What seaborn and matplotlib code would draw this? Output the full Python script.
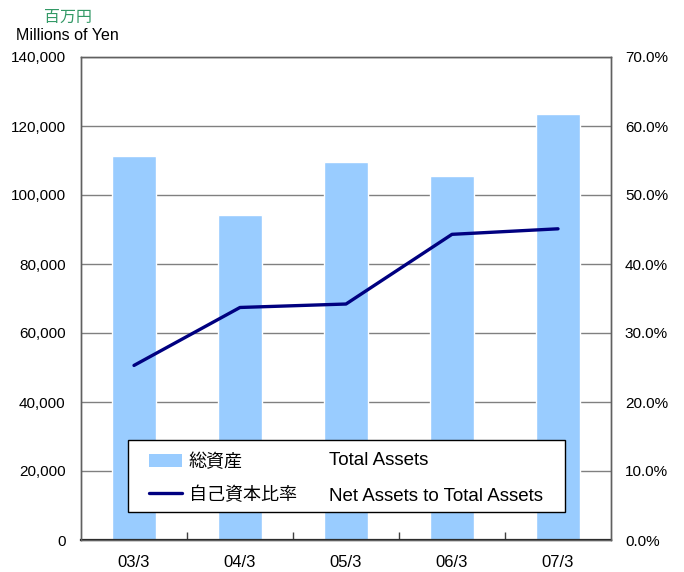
import numpy as np
import matplotlib
matplotlib.use("Agg")
import matplotlib.pyplot as plt
import seaborn as sns
from matplotlib.patches import Patch, Rectangle
from matplotlib.lines import Line2D
from matplotlib.ticker import FuncFormatter, MultipleLocator, FixedLocator

years = ["03/3", "04/3", "05/3", "06/3", "07/3"]
total_assets = [111300, 94200, 109600, 105500, 123500]
equity_ratio = [25.3, 33.7, 34.2, 44.3, 45.1]

legend_jp = ["総資産", "自己資本比率"]
legend_en = ["Total Assets", "Net Assets to Total Assets"]

bar_color = "#99CCFF"
line_color = "#000080"

sns.set_theme(style="white")
plt.rcParams["font.family"] = ["Liberation Sans", "Noto Sans CJK JP", "DejaVu Sans"]

fig = plt.figure(figsize=(6.84, 5.72), dpi=100)
ax = fig.add_axes([81/684, 32/572, 530/684, 483/572])

sns.barplot(x=years, y=total_assets, color=bar_color, saturation=1, width=0.41, ax=ax, zorder=2)
ax.set_xlim(-0.5, len(years) - 0.5)
ax.set_ylim(0, 140000)
ax.yaxis.set_major_locator(MultipleLocator(20000))
ax.yaxis.set_major_formatter(FuncFormatter(lambda v, p: f"{int(v):,}"))
ax.set_axisbelow(True)
ax.yaxis.grid(True, color="#808080", lw=1)
ax.set_xlabel("")
ax.set_ylabel("")

ax2 = ax.twinx()
sns.lineplot(x=np.arange(len(years)), y=equity_ratio, color=line_color, lw=2.4, ax=ax2,
             solid_capstyle="round", zorder=5)
ax2.set_ylim(0, 70)
ax2.yaxis.set_major_locator(MultipleLocator(10))
ax2.yaxis.set_major_formatter(FuncFormatter(lambda v, p: f"{v:.1f}%"))
ax2.set_xlim(-0.5, len(years) - 0.5)
ax2.set_ylabel("")

for a in (ax, ax2):
    for s in a.spines.values():
        s.set_color("#606060")
        s.set_linewidth(1)
ax.spines["bottom"].set_color("#202020")
ax.spines["bottom"].set_linewidth(1.6)
ax.spines["top"].set_color("#808080")

ax.xaxis.set_minor_locator(FixedLocator(np.arange(0.5, len(years) - 1, 1)))
ax.tick_params(axis="x", which="major", length=0, pad=11, labelsize=12, colors="#000000")
ax.tick_params(axis="x", which="minor", direction="in", length=5.5, width=1, color="#404040", bottom=True)
ax.tick_params(axis="y", length=0, pad=11, labelsize=11, colors="#000000")
ax2.tick_params(axis="y", length=0, pad=10, labelsize=11, colors="#000000")

fig.text(68/684, 1 - 17/572, "百万円", color="#339966", fontsize=11.5, ha="center", va="center")
fig.text(67/684, 1 - 36/572, "Millions of Yen", color="#000000", fontsize=11.5, ha="center", va="center")

frame = Rectangle((128/684, 60/572), 437/684, 72/572, transform=fig.transFigure,
                  facecolor="white", edgecolor="#000000", lw=1, zorder=10)
fig.add_artist(frame)

handles = [Patch(facecolor=bar_color, edgecolor="none"),
           Line2D([0], [0], color=line_color, lw=2.4)]
leg = fig.legend(handles, legend_jp, loc="center left", bbox_to_anchor=(149/684, 1 - 478.7/572),
                 frameon=False, fontsize=13, handlelength=1.85, handleheight=0.7,
                 handletextpad=0.35, labelspacing=0.85, borderpad=0, borderaxespad=0)
leg.set_zorder(11)
for t in leg.get_texts():
    t.set_color("#000000")

for txt, yy in zip(legend_en, [460.7, 496.7]):
    fig.text(329/684, 1 - yy/572, txt, fontsize=13.5, ha="left", va="center", color="#000000", zorder=12)

fig.savefig("out.png", dpi=100)
